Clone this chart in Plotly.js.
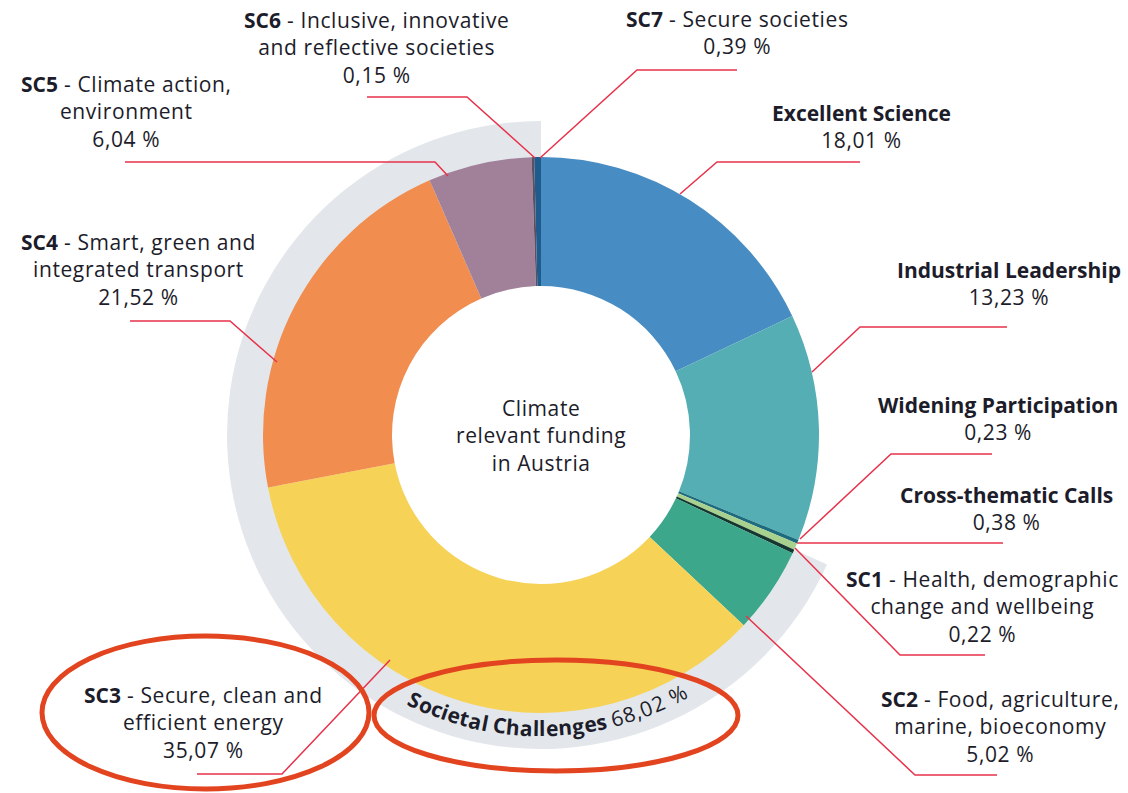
<!DOCTYPE html>
<html><head><meta charset="utf-8">
<script src="https://cdn.plot.ly/plotly-3.0.1.min.js"></script>
<style>
html,body{margin:0;padding:0;background:#fff;}#chart{width:1128px;height:793px;}
.annotation-text{letter-spacing:0.6px;}
.annotation-text tspan[style*="bold"]{letter-spacing:0px;}
</style>
</head><body><div id="chart"></div>
<script>
// ---------- DATA ----------
const categories = ["Excellent Science","Industrial Leadership","Widening Participation","Cross-thematic Calls","SC1","SC2","SC3","SC4","SC5","SC6","SC7"];
const categoryDescriptions = ["","","","",
  "Health, demographic<br>change and wellbeing",
  "Food, agriculture,<br>marine, bioeconomy",
  "Secure, clean and<br>efficient energy",
  "Smart, green and<br>integrated transport",
  "Climate action,<br>environment",
  "Inclusive, innovative<br>and reflective societies",
  "Secure societies"];
const shares = [18.01,13.23,0.23,0.38,0.22,5.02,35.07,21.52,6.04,0.15,0.39];
const isSocietalChallenge = [false,false,false,false,true,true,true,true,true,true,true];
const societalChallengesLabel = "Societal Challenges";
const societalChallengesShare = 68.02;
const centerTitle = "Climate<br>relevant funding<br>in Austria";

// ---------- STYLE / LAYOUT ----------
const sliceColors = ["#478CC3","#54AEB4","#1D6B7E","#A9D18E","#14372F","#3CA78A","#F6D257","#F08D4F","#A1819A","#5B4F62","#1F5B8C"];
const W = 1128, H = 793;
const CX = 541, CY = 435, R = 278, RHOLE = 149, RRING = 314;
const TXT = "#1C1C2A", LEADER = "#E8324B", HIGHLIGHT = "#E2441F";
const FAMILY = "Open Sans";
const FONT = "'Open Sans', Roboto, sans-serif";
const FS = 21;
const px = x => x / W, py = y => 1 - y / H;

// label block centres (pixels)
const labelPos = [[861,127],[1009,283],[998,418],[1006,508],[982,606],[1000,726],[203,722],[138,269],[126,112],[376,47],[737,33]];
// leader polylines (pixels)
const leaderPaths = [
  [[860,162],[717,162],[680,194]],
  [[1007,327],[860,327],[812,372]],
  [[992,454],[891,454],[800,539]],
  [[1003,543],[797,543]],
  [[985,655],[900,655],[795,548]],
  [[997,775],[915,775],[746,616]],
  [[197,774],[282,774],[390,660]],
  [[130,321],[230,321],[277,362]],
  [[125,162],[435,162],[448,176]],
  [[367,97],[467,97],[535,158]],
  [[737,70],[637,70],[540,158]]
];

const fmt = v => v.toFixed(2).replace('.', ',') + ' %';

// ---------- TRACES ----------
const nonSC = shares.filter((v,i)=>!isSocietalChallenge[i]).reduce((a,b)=>a+b,0);
const sc = shares.filter((v,i)=>isSocietalChallenge[i]).reduce((a,b)=>a+b,0);

const ring = {
  type:'pie', values:[nonSC, sc], labels:['other', societalChallengesLabel],
  sort:false, direction:'clockwise', rotation:0,
  marker:{colors:['rgba(0,0,0,0)','#E3E7EB'], line:{width:0}},
  hole: 0.85, textinfo:'none', hoverinfo:'skip', showlegend:false,
  domain:{x:[px(CX-RRING), px(CX+RRING)], y:[py(CY+RRING), py(CY-RRING)]}
};
const donut = {
  type:'pie', values:shares, labels:categories,
  sort:false, direction:'clockwise', rotation:0,
  marker:{colors:sliceColors, line:{width:0}},
  hole: RHOLE/R, textinfo:'none', hoverinfo:'label+value', showlegend:false,
  domain:{x:[px(CX-R), px(CX+R)], y:[py(CY+R), py(CY-R)]}
};

// ---------- ANNOTATIONS ----------
const annotations = [];
categories.forEach((c,i)=>{
  let t;
  if (isSocietalChallenge[i]) t = '<b>'+c+'</b> - '+categoryDescriptions[i]+'<br>'+fmt(shares[i]);
  else t = '<b>'+c+'</b><br>'+fmt(shares[i]);
  annotations.push({xref:'paper', yref:'paper', x:px(labelPos[i][0]), y:py(labelPos[i][1]),
    xanchor:'center', yanchor:'middle', align:'center', showarrow:false, text:t,
    font:{family:FONT, size:FS, color:TXT}});
});
annotations.push({xref:'paper', yref:'paper', x:px(CX), y:py(CY), xanchor:'center', yanchor:'middle',
  align:'center', showarrow:false, text:centerTitle, font:{family:FONT, size:FS, color:TXT}});

// curved "Societal Challenges 68,02 %" text
(function(){
  const cv = document.createElement('canvas').getContext('2d');
  const parts = [{t:societalChallengesLabel+' ', bold:true},{t:fmt(societalChallengesShare), bold:false}];
  const chars = [];
  parts.forEach(p=>{
    cv.font = (p.bold?'bold ':'') + FS + 'px "' + FAMILY + '"';
    for (const ch of p.t) chars.push({ch, w:cv.measureText(ch).width + (p.bold?0:0.6), bold:p.bold});
  });
  const total = chars.reduce((a,c)=>a+c.w,0);
  const rText = 293, centerDeg = 1.5;
  let s = 0;
  const a0 = centerDeg*Math.PI/180 - total/2/rText;
  chars.forEach(c=>{
    const a = a0 + (s + c.w/2)/rText;
    s += c.w;
    if (c.ch === ' ') return;
    annotations.push({xref:'paper', yref:'paper', x:px(CX + rText*Math.sin(a)), y:py(CY + rText*Math.cos(a)),
      xanchor:'center', yanchor:'middle', showarrow:false, textangle:-a*180/Math.PI,
      text: c.bold ? '<b>'+c.ch+'</b>' : c.ch, font:{family:FONT, size:FS, color:TXT}});
  });
})();

// ---------- SHAPES ----------
const shapes = leaderPaths.map(pts=>({type:'path', xref:'paper', yref:'paper', layer:'above',
  path: pts.map((p,k)=>(k?'L':'M')+px(p[0])+','+py(p[1])).join(' '),
  line:{color:LEADER, width:1.5}}));
shapes.push({type:'circle', xref:'paper', yref:'paper', x0:px(42), x1:px(369), y0:py(789), y1:py(636), line:{color:HIGHLIGHT, width:5}});
shapes.push({type:'circle', xref:'paper', yref:'paper', x0:px(374), x1:px(738), y0:py(771), y1:py(660), line:{color:HIGHLIGHT, width:5}});

const layout = {width:W, height:H, margin:{l:0,r:0,t:0,b:0}, paper_bgcolor:'#fff', plot_bgcolor:'#fff',
  showlegend:false, annotations, shapes};
Plotly.newPlot('chart', [ring, donut], layout, {displayModeBar:false, staticPlot:true});
</script></body></html>
